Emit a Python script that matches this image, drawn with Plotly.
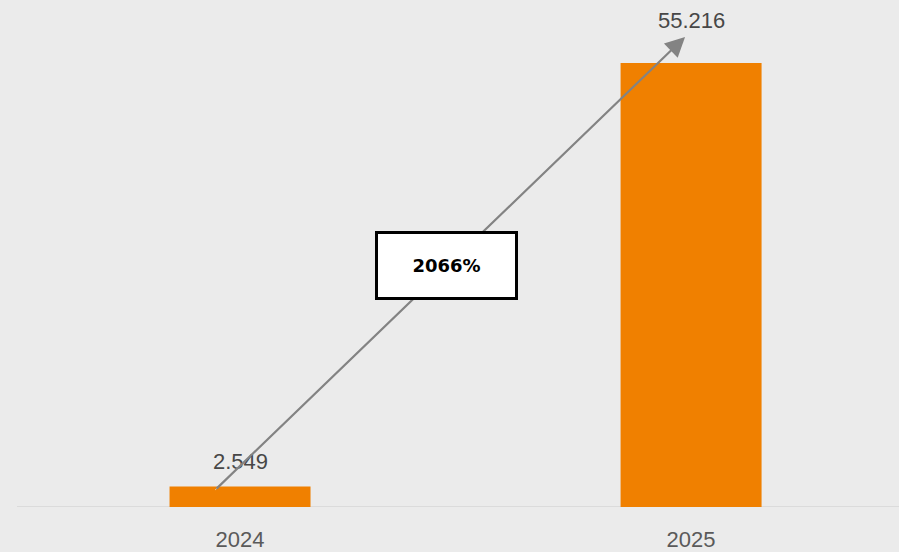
import plotly.graph_objects as go

years = ["2024", "2025"]
values = [2.549, 55.216]
value_labels = ["2.549", "55.216"]
label_shift = [25.5, 43]
growth_label = "2066%"

xpos = [0, 1]
bg = "#ebebeb"
fig = go.Figure()
fig.add_trace(go.Bar(
    x=xpos, y=values, width=0.3126, marker=dict(color="#f08000", line=dict(width=0)),
    hoverinfo="skip",
))
for xp, v, t, s in zip(xpos, values, value_labels, label_shift):
    fig.add_annotation(x=xp, y=v, xref="x", yref="y", text=t, showarrow=False,
                       yanchor="middle", yshift=s,
                       font=dict(family="Liberation Sans, Arial", size=22, color="#474747"))

# arrow from first bar top to above second bar
x0, y0 = -0.0554, 2.11
x1, y1 = 0.9867, 58.45
fig.add_annotation(x=x1, y=y1, ax=x0, ay=y0, xref="x", yref="y", axref="x", ayref="y",
                   showarrow=True, arrowhead=2, arrowsize=1.8, arrowwidth=2.2,
                   arrowcolor="#838383", text="")
fig.add_shape(type="line", x0=x0, y0=y0, x1=x0 + (x1 - x0) * 0.95, y1=y0 + (y1 - y0) * 0.95,
              xref="x", yref="y", line=dict(color="#d4d4d4", width=0.8))

fig.add_annotation(x=(x0 + x1) / 2 - 0.008, y=(y0 + y1) / 2 - 0.25, xref="x", yref="y",
                   text="<b>" + growth_label + "</b>", showarrow=False,
                   font=dict(family="DejaVu Sans", size=18, color="#000"),
                   bgcolor="white", bordercolor="black", borderwidth=3,
                   width=137, height=63, borderpad=0)

fig.update_layout(
    width=899, height=552, margin=dict(l=17, r=0, t=0, b=45),
    paper_bgcolor=bg, plot_bgcolor=bg, showlegend=False,
    xaxis=dict(range=[-0.4945, 1.461], tickvals=xpos, ticktext=years, showgrid=False,
               zeroline=False, showline=False, ticks="", ticklabelstandoff=17,
               tickfont=dict(family="Liberation Sans, Arial", size=22, color="#5a5a5a")),
    yaxis=dict(range=[0, 63.05], visible=False, showgrid=False, zeroline=False),
)
fig.add_shape(type="line", xref="paper", yref="y", x0=0, x1=1, y0=0, y1=0,
              line=dict(color="#d6d6d6", width=1.5), layer="below")
fig.write_html("out.html", config={"displayModeBar": False},
               post_script="document.body.style.margin='0';")
